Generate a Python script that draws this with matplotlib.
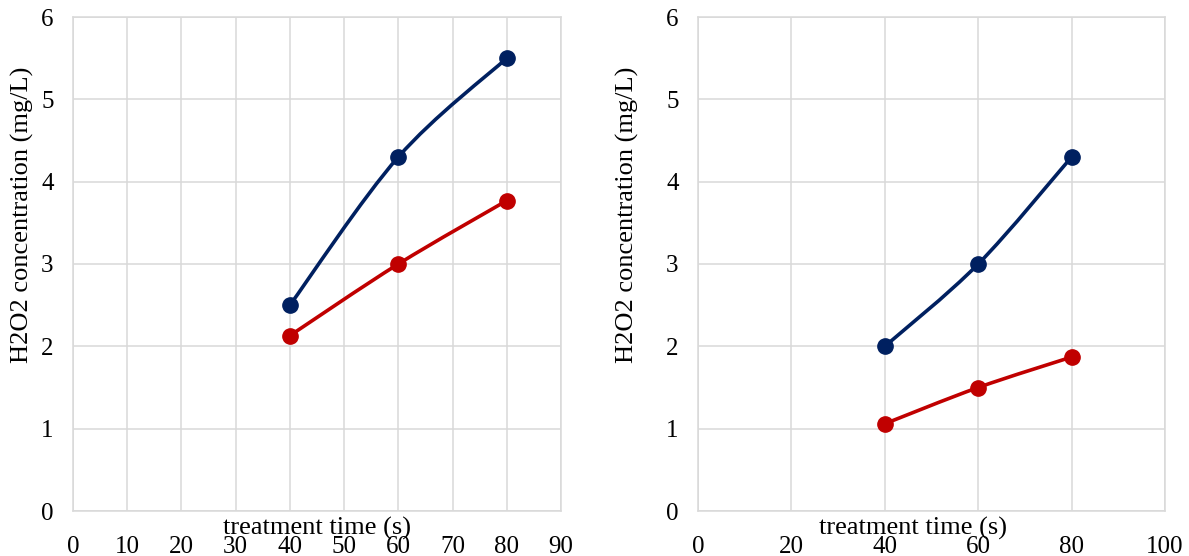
import matplotlib
matplotlib.use("Agg")
import matplotlib.pyplot as plt
from matplotlib.path import Path
from matplotlib.patches import PathPatch
import numpy as np

# ---- data ----
time_s = [40, 60, 80]
left_blue = [2.5, 4.3, 5.5]
left_red = [2.13, 3.0, 3.77]
right_blue = [2.0, 3.0, 4.3]
right_red = [1.06, 1.5, 1.87]

left_xticks = [0, 10, 20, 30, 40, 50, 60, 70, 80, 90]
right_xticks = [0, 20, 40, 60, 80, 100]
yticks = [0, 1, 2, 3, 4, 5, 6]

xlabel = "treatment time (s)"
ylabel = "H2O2 concentration (mg/L)"

BLUE = "#002060"
RED = "#C00000"
GRID = "#d9d9d9"

plt.rcParams['font.family'] = ['Liberation Serif', 'DejaVu Serif']

W, H = 1189, 556
fig = plt.figure(figsize=(W / 100, H / 100), dpi=100)

TICK_FS = 18
LABEL_FS = 19


def smooth_path(xs, ys):
    """Excel-style smoothed line: Catmull-Rom converted to cubic Bezier."""
    pts = np.column_stack([xs, ys]).astype(float)
    n = len(pts)
    verts = [pts[0]]
    codes = [Path.MOVETO]
    for i in range(n - 1):
        p0 = pts[i - 1] if i > 0 else pts[i]
        p1 = pts[i]
        p2 = pts[i + 1]
        p3 = pts[i + 2] if i + 2 < n else pts[i + 1]
        c1 = p1 + (p2 - p0) / 6.0
        c2 = p2 - (p3 - p1) / 6.0
        verts += [c1, c2, p2]
        codes += [Path.CURVE4] * 3
    return Path(verts, codes)


def make_axes(rect, xmax, xticks, xlabel_x):
    ax = fig.add_axes(rect)
    ax.set_xlim(0, xmax)
    ax.set_ylim(0, 6)
    ax.set_xticks(xticks)
    ax.set_yticks(yticks)
    ax.grid(True, color=GRID, linewidth=1.1)
    ax.set_axisbelow(True)
    for s in ax.spines.values():
        s.set_color(GRID)
        s.set_linewidth(1.1)
    ax.tick_params(axis='both', length=0, labelsize=TICK_FS, colors='black')
    ax.tick_params(axis='y', pad=14)
    ax.tick_params(axis='x', pad=18)
    ax.set_xlabel(xlabel, fontsize=LABEL_FS)
    ax.xaxis.set_label_coords(xlabel_x, -0.012)
    return ax


def draw_series(ax, xs, ys, color):
    patch = PathPatch(smooth_path(xs, ys), facecolor='none', edgecolor=color,
                      linewidth=2.6, zorder=3, capstyle='round')
    ax.add_patch(patch)
    ax.plot(xs, ys, linestyle='none', marker='o', markersize=11,
            color=color, zorder=4)


axL = make_axes([73 / W, 1 - 511 / H, (561 - 73) / W, (511 - 17) / H],
                90, left_xticks, 0.5)
draw_series(axL, time_s, left_blue, BLUE)
draw_series(axL, time_s, left_red, RED)

axR = make_axes([698 / W, 1 - 511 / H, (1165 - 698) / W, (511 - 17) / H],
                100, right_xticks, 0.46)
draw_series(axR, time_s, right_blue, BLUE)
draw_series(axR, time_s, right_red, RED)

fig.text(22 / W, 1 - 215 / H, ylabel, rotation=90, ha='center', va='center',
         fontsize=LABEL_FS)
fig.text(627 / W, 1 - 215 / H, ylabel, rotation=90, ha='center', va='center',
         fontsize=LABEL_FS)

fig.savefig("out.png", dpi=100, facecolor='white')
